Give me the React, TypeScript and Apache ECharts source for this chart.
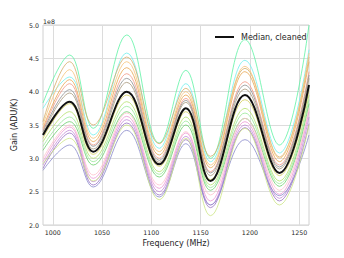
import React, { useEffect, useRef } from "react";
import * as echarts from "echarts";

// Frequency sample points (MHz) at which values were read (peaks / troughs / edges)
const freqs = [990, 1017, 1041, 1075, 1108, 1135, 1160, 1195, 1230, 1260];

// Values in units of 1e8 ADU/K
const median = [3.35, 3.85, 3.1, 4.0, 2.91, 3.75, 2.66, 3.95, 2.78, 4.1];
const bandHigh = [3.7, 4.2, 3.3, 4.42, 3.15, 4.15, 2.96, 4.42, 3.1, 4.5];
const bandLow = [3.05, 3.4, 2.78, 3.65, 2.62, 3.5, 2.38, 3.55, 2.42, 3.8];

const springGreen = [3.83, 4.55, 3.45, 4.85, 3.23, 4.32, 3.0, 4.78, 3.2, 5.0];
const cyan = [3.75, 4.22, 3.35, 4.58, 3.15, 4.12, 2.95, 4.47, 3.08, 4.63];
const tan = [3.55, 4.45, 3.5, 4.52, 3.22, 4.05, 3.03, 4.35, 3.02, 4.52];
const lightOrange = [3.5, 4.33, 3.3, 4.45, 3.1, 4.0, 2.9, 4.38, 3.0, 4.58];
const orange = [3.45, 4.18, 3.25, 4.36, 3.05, 3.95, 2.86, 4.3, 2.95, 4.45];
const salmon = [3.42, 4.12, 3.2, 4.27, 3.0, 3.9, 2.8, 4.15, 2.9, 4.3];
const gray = [3.4, 4.03, 3.18, 4.2, 2.97, 3.87, 2.78, 4.1, 2.87, 4.25];
const taupe = [3.37, 3.98, 3.14, 4.14, 2.94, 3.84, 2.74, 4.04, 2.84, 4.2];
const khaki = [3.3, 3.82, 3.06, 3.95, 2.88, 3.7, 2.68, 3.88, 2.74, 4.02];
const yellowGreen = [3.25, 3.7, 3.0, 3.85, 2.8, 3.62, 2.6, 3.75, 2.66, 3.95];
const lightGreen = [3.18, 3.62, 2.95, 3.78, 2.76, 3.56, 2.56, 3.68, 2.62, 3.88];
const green = [3.12, 3.55, 2.9, 3.7, 2.72, 3.5, 2.52, 3.6, 2.58, 3.82];
const lightPink = [3.0, 3.5, 2.75, 3.68, 2.6, 3.4, 2.45, 3.6, 2.52, 3.75];
const pink = [2.95, 3.47, 2.7, 3.63, 2.55, 3.38, 2.36, 3.55, 2.46, 3.7];
const violet = [2.9, 3.42, 2.65, 3.58, 2.5, 3.33, 2.3, 3.5, 2.4, 3.62];
const purple = [2.85, 3.38, 2.6, 3.53, 2.45, 3.28, 2.26, 3.46, 2.36, 3.52];
const slate = [2.82, 3.2, 2.57, 3.42, 2.42, 3.22, 2.3, 3.28, 2.44, 3.35];
const limeYellow = [2.92, 3.3, 2.66, 3.5, 2.38, 3.3, 2.14, 3.45, 2.3, 3.5];

const xTicks = [1000, 1050, 1100, 1150, 1200, 1250];

const lines = [
  { name: "springGreen", color: "#5ef2a4", values: springGreen },
  { name: "cyan", color: "#72f0ee", values: cyan },
  { name: "tan", color: "#d5ae6a", values: tan },
  { name: "lightOrange", color: "#f6c47a", values: lightOrange },
  { name: "orange", color: "#e8a650", values: orange },
  { name: "salmon", color: "#f29886", values: salmon },
  { name: "gray", color: "#8e8e8e", values: gray },
  { name: "taupe", color: "#a8977a", values: taupe },
  { name: "khaki", color: "#d6cf5e", values: khaki },
  { name: "yellowGreen", color: "#b4e26c", values: yellowGreen },
  { name: "lightGreen", color: "#98ea98", values: lightGreen },
  { name: "green", color: "#6ccf6c", values: green },
  { name: "lightPink", color: "#ffc2cc", values: lightPink },
  { name: "pink", color: "#ec98d4", values: pink },
  { name: "violet", color: "#c48bda", values: violet },
  { name: "purple", color: "#9a72c4", values: purple },
  { name: "slate", color: "#8a8acb", values: slate },
  { name: "limeYellow", color: "#cde686", values: limeYellow },
];

const FONT = "DejaVu Sans";
const TEXT = "#262626";
const SMOOTH = 0.4;

export default function App() {
  const ref = useRef<HTMLDivElement>(null);
  useEffect(() => {
    if (!ref.current) return;
    const chart = echarts.init(ref.current, null, { renderer: "svg" });
    const pair = (vals: number[]) => freqs.map((f, i) => [f, vals[i]]);
    const series: any[] = [
      {
        name: "bandLow",
        type: "line",
        data: pair(bandLow),
        stack: "band",
        smooth: SMOOTH,
        symbol: "none",
        silent: true,
        lineStyle: { opacity: 0 },
      },
      {
        name: "bandSpan",
        type: "line",
        data: freqs.map((f, i) => [f, bandHigh[i] - bandLow[i]]),
        stack: "band",
        smooth: SMOOTH,
        symbol: "none",
        silent: true,
        lineStyle: { opacity: 0 },
        areaStyle: { color: "#b8b8b8", opacity: 0.75 },
      },
      ...lines.map((l) => ({
        name: l.name,
        type: "line",
        data: pair(l.values),
        smooth: SMOOTH,
        symbol: "none",
        silent: true,
        lineStyle: { color: l.color, width: 1, opacity: 0.8 },
      })),
      {
        name: "Median, cleaned",
        type: "line",
        data: pair(median),
        smooth: SMOOTH,
        symbol: "none",
        lineStyle: { color: "#111111", width: 2 },
        itemStyle: { color: "#111111" },
        z: 4,
      },
    ];
    chart.setOption({
      animation: false,
      backgroundColor: "#ffffff",
      grid: {
        left: 43,
        top: 25,
        right: 35,
        bottom: 33,
        show: true,
        borderColor: "#d0d0d0",
        borderWidth: 1,
        backgroundColor: "transparent",
      },
      legend: {
        data: [{ name: "Median, cleaned", icon: "rect" }],
        left: 210,
        top: 28,
        itemWidth: 19,
        itemHeight: 2,
        itemStyle: { color: "#111111" },
        textStyle: { fontSize: 8, color: TEXT, fontFamily: FONT, padding: [0, 0, 0, 2] },
      },
      graphic: [
        {
          type: "text",
          left: 43,
          top: 18,
          style: { text: "1e8", fontSize: 6.3, fill: TEXT, fontFamily: FONT },
        },
      ],
      xAxis: {
        type: "value",
        min: 990,
        max: 1260,
        name: "Frequency (MHz)",
        nameLocation: "middle",
        nameGap: 14,
        nameTextStyle: { fontSize: 8, color: TEXT, fontFamily: FONT },
        axisLine: { show: false },
        axisTick: { show: false, customValues: xTicks },
        axisLabel: {
          customValues: xTicks,
          fontSize: 6.3,
          color: TEXT,
          fontFamily: FONT,
          margin: 4,
          formatter: (v: number) => String(v),
        },
        splitLine: { show: true, lineStyle: { color: "#dcdcdc", width: 1 } },
      },
      yAxis: {
        type: "value",
        min: 2,
        max: 5,
        interval: 0.5,
        name: "Gain (ADU/K)",
        nameLocation: "middle",
        nameGap: 17,
        nameTextStyle: { fontSize: 8, color: TEXT, fontFamily: FONT },
        axisLine: { show: false },
        axisTick: { show: false },
        axisLabel: {
          fontSize: 6.3,
          color: TEXT,
          fontFamily: FONT,
          margin: 4,
          formatter: (v: number) => v.toFixed(1),
        },
        splitLine: { show: true, lineStyle: { color: "#dcdcdc", width: 1 } },
      },
      series,
    });
    return () => chart.dispose();
  }, []);
  return (
    <div
      ref={ref}
      style={{
        position: "absolute",
        left: 0,
        top: 0,
        width: 344,
        height: 258,
        background: "#fff",
      }}
    />
  );
}
